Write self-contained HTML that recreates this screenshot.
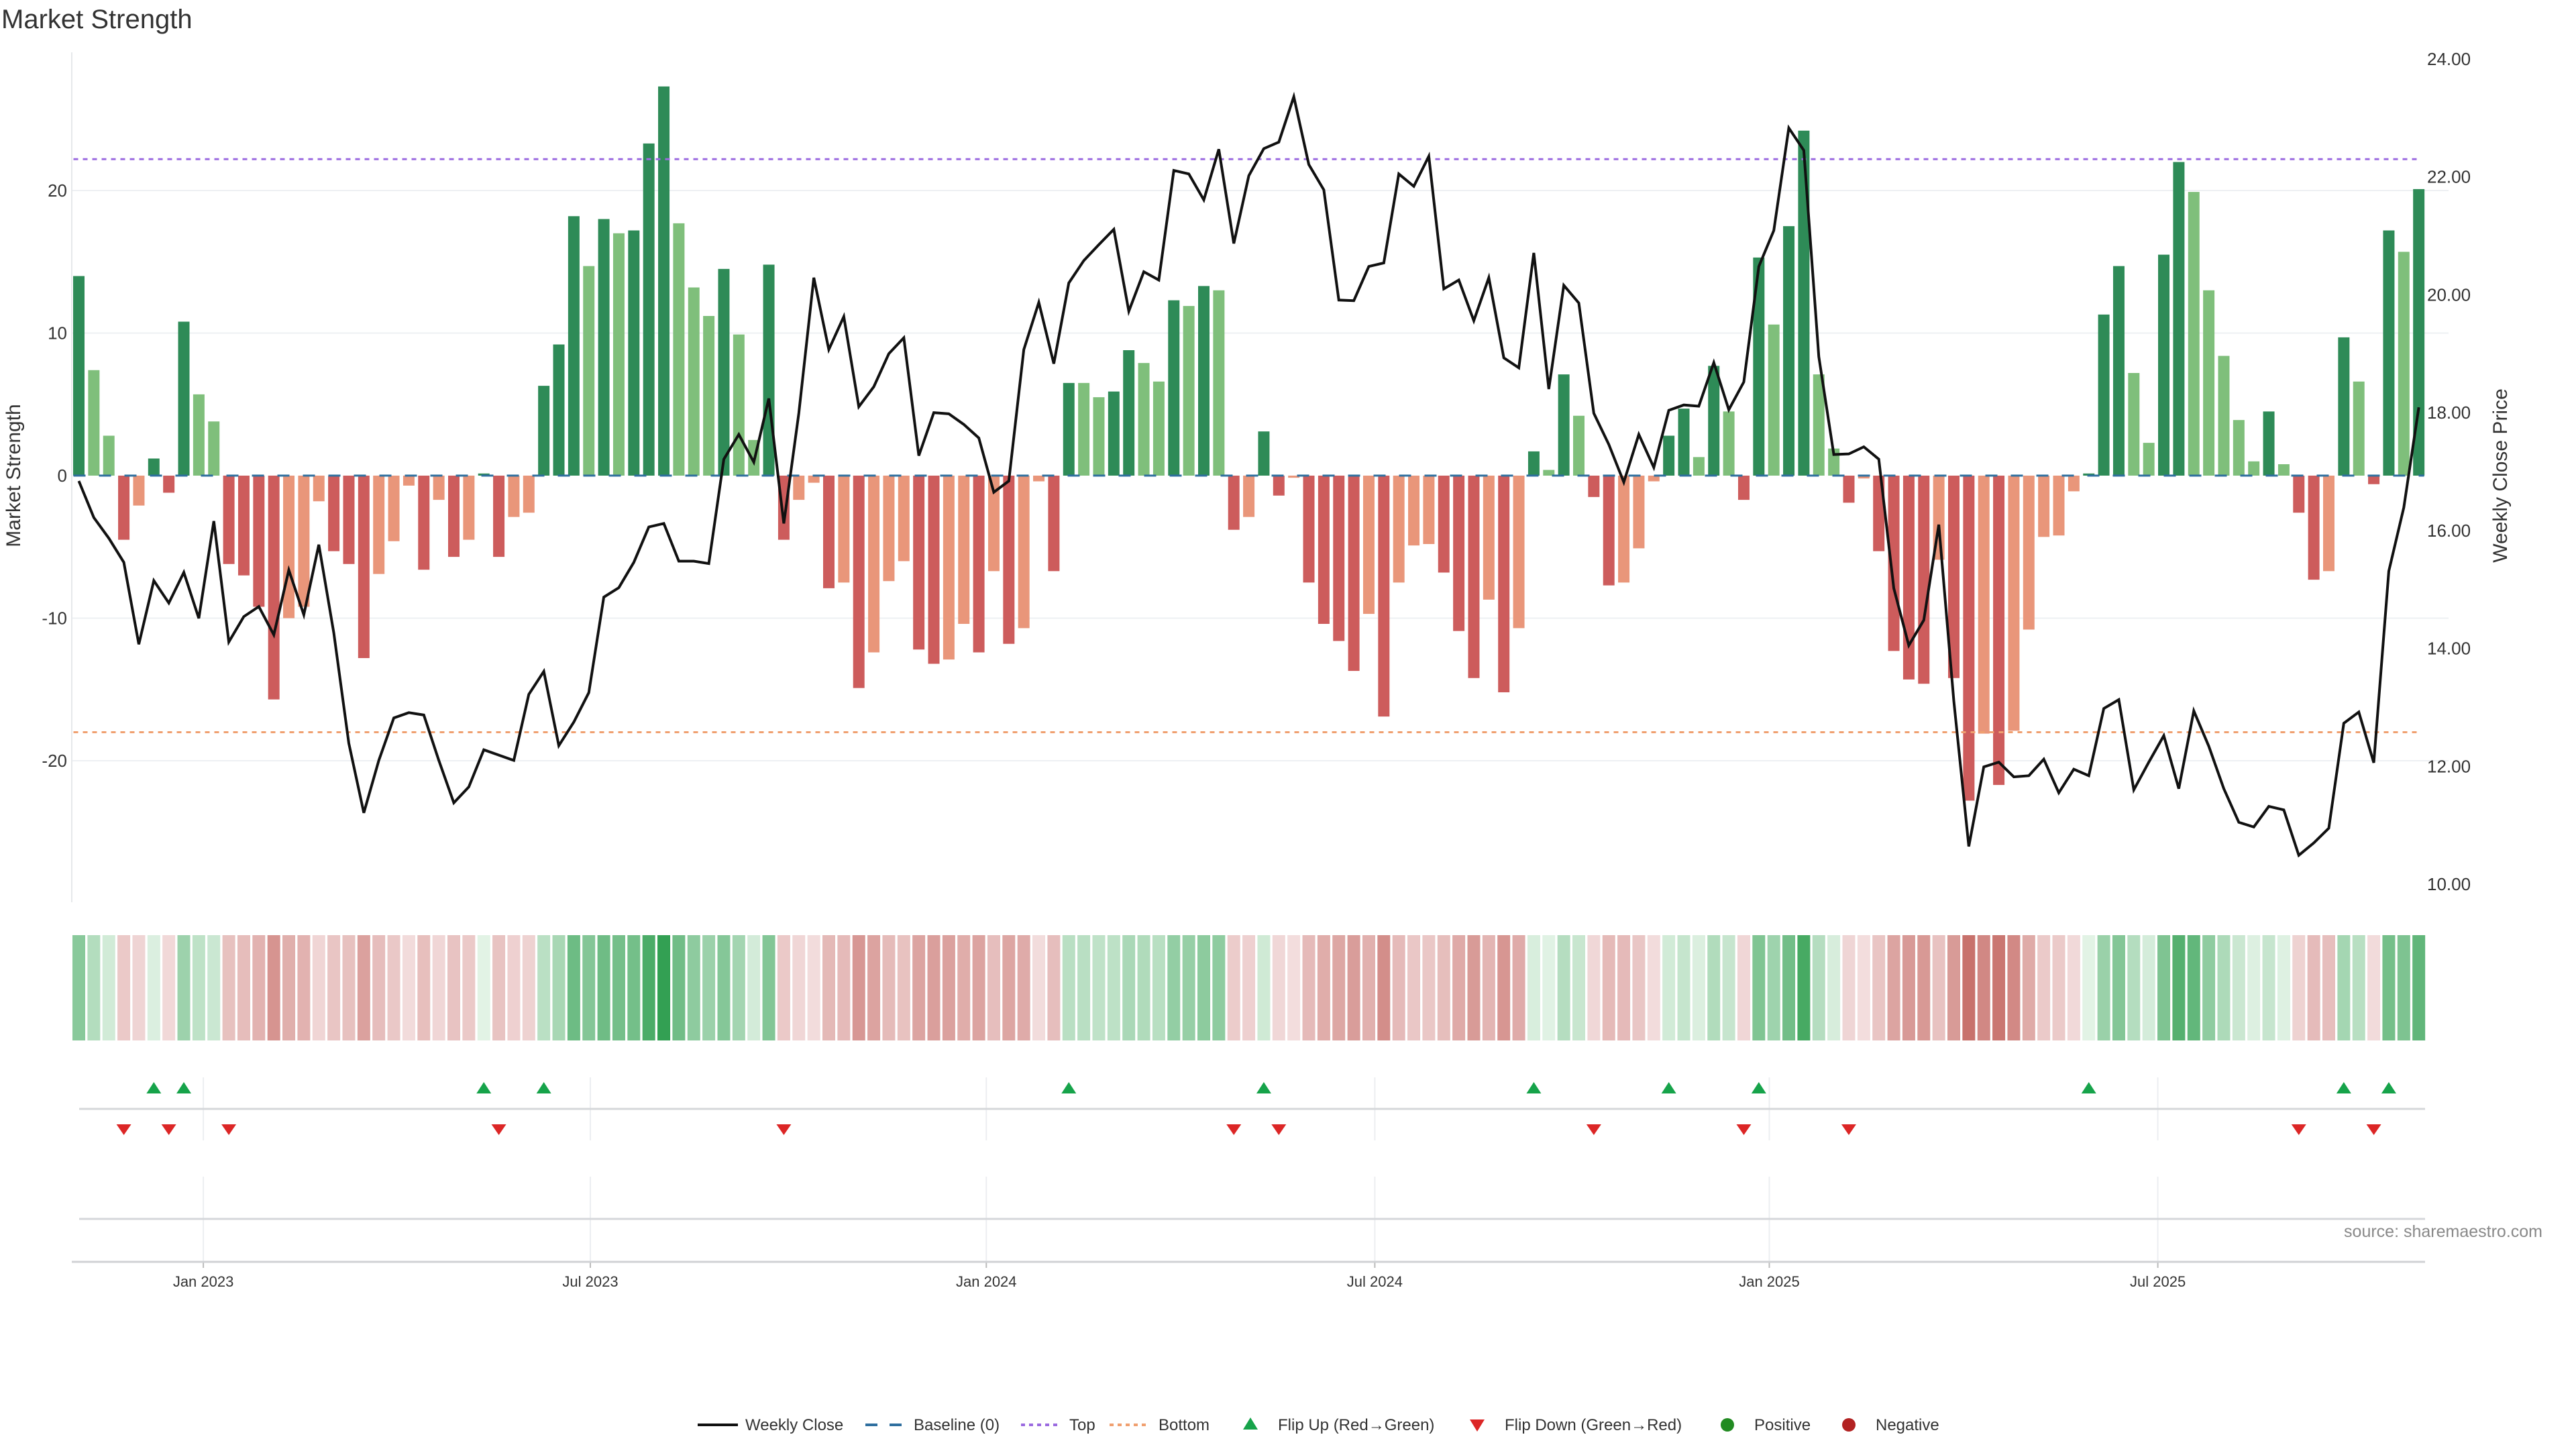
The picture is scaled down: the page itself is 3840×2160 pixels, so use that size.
<!DOCTYPE html>
<html><head><meta charset="utf-8"><style>
html,body{margin:0;padding:0;background:#fff;}
svg{display:block;font-family:"Liberation Sans","DejaVu Sans",sans-serif;}
</style></head><body>
<svg id="chart" width="3840" height="2160" viewBox="0 0 3840 2160" xmlns="http://www.w3.org/2000/svg">
<rect width="3840" height="2160" fill="#fff"/>
<text x="2" y="42" font-size="40" fill="#333">Market Strength</text>
<g id="grid"></g><g id="bars"></g><g id="lines"></g><g id="strip"></g><g id="flips"></g><g id="axes"></g>
<text transform="translate(30,709) rotate(-90)" text-anchor="middle" font-size="30" fill="#333">Market Strength</text>
<text transform="translate(3737,709) rotate(-90)" text-anchor="middle" font-size="30" fill="#333">Weekly Close Price</text>
<text x="3790" y="1844" text-anchor="end" font-size="25" fill="#888">source: sharemaestro.com</text>
<g id="legend" font-size="24" fill="#333">
 <g><line x1="1040" y1="2124" x2="1100" y2="2124" stroke="#111" stroke-width="4"/><text x="1111" y="2132">Weekly Close</text></g>
 <g><line x1="1290" y1="2124" x2="1346" y2="2124" stroke="#2f6f9f" stroke-width="4" stroke-dasharray="18,18"/><text x="1362" y="2132">Baseline (0)</text></g>
 <g><line x1="1522" y1="2124" x2="1580" y2="2124" stroke="#9b6be0" stroke-width="4" stroke-dasharray="6,6"/><text x="1594" y="2132">Top</text></g>
 <g><line x1="1654" y1="2124" x2="1712" y2="2124" stroke="#f0a070" stroke-width="4" stroke-dasharray="6,6"/><text x="1727" y="2132">Bottom</text></g>
 <g><polygon points="1864,2113 1875,2131 1853,2131" fill="#16a34a"/><text x="1905" y="2132">Flip Up (Red→Green)</text></g>
 <g><polygon points="2191,2116 2213,2116 2202,2134" fill="#dc2626"/><text x="2243" y="2132">Flip Down (Green→Red)</text></g>
 <g><circle cx="2575" cy="2124" r="10" fill="#228b22"/><text x="2615" y="2132">Positive</text></g>
 <g><circle cx="2756" cy="2124" r="10" fill="#b22222"/><text x="2796" y="2132">Negative</text></g>
</g>
</svg>
<script>
const strength=[14.0,7.4,2.8,-4.5,-2.1,1.2,-1.2,10.8,5.7,3.8,-6.2,-7.0,-9.2,-15.7,-10.0,-9.2,-1.8,-5.3,-6.2,-12.8,-6.9,-4.6,-0.7,-6.6,-1.7,-5.7,-4.5,0.15,-5.7,-2.9,-2.6,6.3,9.2,18.2,14.7,18.0,17.0,17.2,23.3,27.3,17.7,13.2,11.2,14.5,9.9,2.5,14.8,-4.5,-1.7,-0.5,-7.9,-7.5,-14.9,-12.4,-7.4,-6.0,-12.2,-13.2,-12.9,-10.4,-12.4,-6.7,-11.8,-10.7,-0.4,-6.7,6.5,6.5,5.5,5.9,8.8,7.9,6.6,12.3,11.9,13.3,13.0,-3.8,-2.9,3.1,-1.4,-0.15,-7.5,-10.4,-11.6,-13.7,-9.7,-16.9,-7.5,-4.9,-4.8,-6.8,-10.9,-14.2,-8.7,-15.2,-10.7,1.7,0.4,7.1,4.2,-1.5,-7.7,-7.5,-5.1,-0.4,2.8,4.7,1.3,7.7,4.5,-1.7,15.3,10.6,17.5,24.2,7.1,1.9,-1.9,-0.2,-5.3,-12.3,-14.3,-14.6,-5.9,-14.2,-22.8,-18.1,-21.7,-17.9,-10.8,-4.3,-4.2,-1.1,0.15,11.3,14.7,7.2,2.3,15.5,22.0,19.9,13.0,8.4,3.9,1.0,4.5,0.8,-2.6,-7.3,-6.7,9.7,6.6,-0.6,17.2,15.7,20.1];
const closePrice=[16.84,16.22,15.87,15.46,14.07,15.15,14.77,15.29,14.51,16.16,14.11,14.54,14.71,14.23,15.33,14.57,15.76,14.26,12.39,11.21,12.10,12.82,12.91,12.87,12.10,11.38,11.65,12.28,12.19,12.10,13.22,13.61,12.35,12.75,13.25,14.87,15.03,15.46,16.06,16.12,15.48,15.48,15.44,17.21,17.63,17.16,18.24,16.12,17.99,20.29,19.07,19.63,18.10,18.44,19.00,19.27,17.27,18.00,17.98,17.80,17.57,16.65,16.84,19.07,19.87,18.83,20.20,20.58,20.85,21.11,19.72,20.39,20.25,22.11,22.05,21.61,22.47,20.87,22.02,22.48,22.59,23.36,22.21,21.78,19.91,19.90,20.48,20.54,22.05,21.84,22.35,20.10,20.25,19.56,20.29,18.93,18.76,20.71,18.40,20.16,19.86,17.99,17.46,16.82,17.63,17.07,18.04,18.13,18.11,18.85,18.05,18.52,20.48,21.09,22.83,22.45,18.95,17.29,17.30,17.42,17.21,15.02,14.05,14.48,16.10,13.11,10.64,11.99,12.07,11.82,11.84,12.12,11.55,11.95,11.84,12.98,13.13,11.60,12.07,12.52,11.62,12.94,12.34,11.62,11.05,10.97,11.32,11.26,10.49,10.70,10.95,12.73,12.92,12.06,15.31,16.39,18.09];
const leftTicks=[-20,-10,0,10,20];
const rightTicks=[10,12,14,16,18,20,22,24];
const topLevel=[22.2];
const bottomLevel=[-18.0];
const xTickLabels=["Jan 2023","Jul 2023","Jan 2024","Jul 2024","Jan 2025","Jul 2025"];
const xTickIndex=[8.3,34.1,60.5,86.4,112.7,138.6];

const NS="http://www.w3.org/2000/svg";
const X0=117.5, STEP=22.36, ZERO=709, UNIT=21.25, P0=1318, PU=87.86;
const PLOT_L=107, PLOT_R=3650, LOW_R=3615;
const xs=i=>X0+i*STEP;
const ys=v=>ZERO-v*UNIT;
const yp=p=>P0-(p-10)*PU;
function mk(tag,attrs,parent){const e=document.createElementNS(NS,tag);for(const k in attrs)e.setAttribute(k,attrs[k]);document.getElementById(parent).appendChild(e);return e;}
function mix(a,b,t){t=Math.max(0,Math.min(1,t));const r=[0,1,2].map(k=>Math.round(a[k]+(b[k]-a[k])*t));return `rgb(${r[0]},${r[1]},${r[2]})`;}

leftTicks.forEach(v=>{
  if(v!==0){const g=mk('line',{x1:PLOT_L,x2:PLOT_R,y1:ys(v),y2:ys(v),stroke:'#eef0f3','stroke-width':2},'grid');
  
  }
  const t=mk('text',{x:100,y:ys(v)+9,'text-anchor':'end','font-size':26,fill:'#333'},'axes');t.textContent=v;
  
  
});
rightTicks.forEach(p=>{
  const t=mk('text',{x:3618,y:yp(p)+9,'font-size':26,fill:'#333'},'axes');t.textContent=p.toFixed(2);
  
  
});
let ax=mk('line',{x1:PLOT_L,x2:PLOT_L,y1:78,y2:1345,stroke:'#e6e8eb','stroke-width':2},'grid');



strength.forEach((v,i)=>{
  const prev=i>0?strength[i-1]:0;
  let fill;
  if(v>=0) fill=(v>prev)?'#2e8b57':'#7fbf7b'; else fill=(v<prev)?'#cd5c5c':'#e9967a';
  const y=Math.min(ys(v),ZERO), h=Math.abs(ys(v)-ZERO);
  const b=mk('rect',{x:xs(i)-8.5,y:y,width:17,height:Math.max(h,1),fill:fill},'bars');
  
  
});
let bl=mk('line',{x1:xs(0)-8,x2:xs(strength.length-1)+8,y1:ZERO,y2:ZERO,stroke:'#2f6f9f','stroke-width':3,'stroke-dasharray':'18,20'},'lines');


let tl=mk('line',{x1:xs(0)-8,x2:xs(strength.length-1),y1:ys(topLevel[0]),y2:ys(topLevel[0]),stroke:'#9b6be0','stroke-width':3,'stroke-dasharray':'7,7'},'lines');


let btl=mk('line',{x1:xs(0)-8,x2:xs(strength.length-1),y1:ys(bottomLevel[0]),y2:ys(bottomLevel[0]),stroke:'#f0a070','stroke-width':3,'stroke-dasharray':'7,7'},'lines');


let pl=mk('polyline',{points:closePrice.map((p,i)=>xs(i)+','+yp(p)).join(' '),fill:'none',stroke:'#111','stroke-width':4,'stroke-linejoin':'miter'},'lines');



strength.forEach((v,i)=>{
  const fill=v>=0?mix([227,243,230],[46,158,79],v/28):mix([243,222,222],[200,113,107],-v/23);
  const c=mk('rect',{x:xs(i)-9.5,y:1394,width:19,height:157,fill:fill},'strip');
  
  
});

xTickIndex.forEach((ti,k)=>{
  const x=xs(ti);
  let g1=mk('line',{x1:x,x2:x,y1:1606,y2:1700,stroke:'#eceef1','stroke-width':2},'axes');
  
  
  let g2=mk('line',{x1:x,x2:x,y1:1754,y2:1881,stroke:'#eceef1','stroke-width':2},'axes');
  
  
  let tk=mk('line',{x1:x,x2:x,y1:1881,y2:1890,stroke:'#bbb','stroke-width':2},'axes');
  
  
  const t=mk('text',{x:x,y:1918,'text-anchor':'middle','font-size':22,fill:'#333'},'axes');t.textContent=xTickLabels[k];
  
  
});
let s1=mk('line',{x1:118,x2:LOW_R,y1:1653,y2:1653,stroke:'#d5d7da','stroke-width':3},'axes');


let s2=mk('line',{x1:118,x2:LOW_R,y1:1817,y2:1817,stroke:'#d5d7da','stroke-width':3},'axes');


let s3=mk('line',{x1:PLOT_L,x2:LOW_R,y1:1881,y2:1881,stroke:'#d0d2d5','stroke-width':3},'axes');



strength.forEach((v,i)=>{
  if(i===0)return;
  const p=strength[i-1], x=xs(i);
  if(p<0&&v>=0){
    const t=mk('polygon',{points:`${x},1613 ${x+11},1630 ${x-11},1630`,fill:'#16a34a'},'flips');
    
    
  } else if(p>=0&&v<0){
    const t=mk('polygon',{points:`${x-11},1676 ${x+11},1676 ${x},1692`,fill:'#dc2626'},'flips');
    
    
  }
});
</script>
</body></html>
